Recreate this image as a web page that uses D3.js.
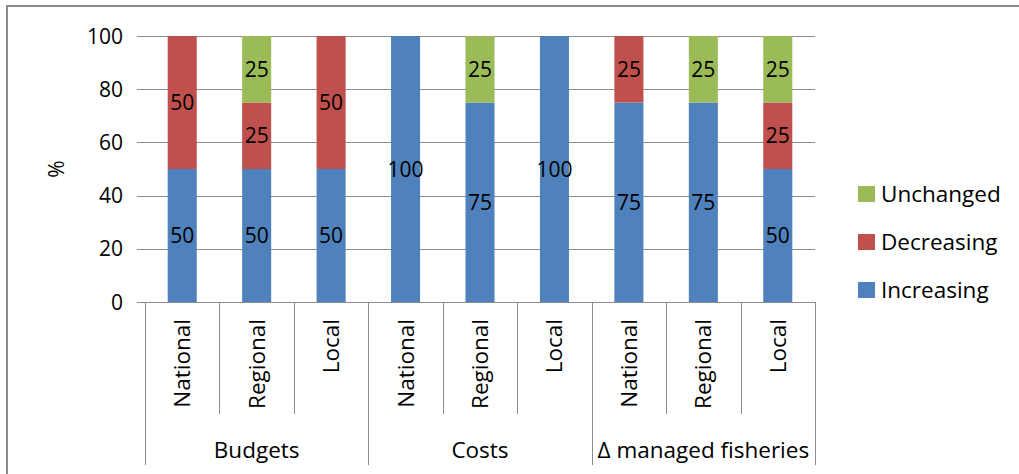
<!DOCTYPE html>
<html>
<head>
<meta charset="utf-8">
<script src="https://cdn.jsdelivr.net/npm/d3@7"></script>
<style>
  html, body { margin: 0; padding: 0; background: #fff; }
  svg { display: block; font-family: "Open Sans", "DejaVu Sans", sans-serif; }
  .grid { stroke: #8c8c8c; stroke-width: 1; shape-rendering: crispEdges; }
  .tick-label { font-size: 21px; fill: #000; }
  .cat-label { font-size: 22.5px; fill: #000; }
  .seg-label { font-size: 21px; fill: #000; }
</style>
</head>
<body>
<svg id="chart" width="1019" height="474"></svg>
<script>
// ---------------------------------------------------------------------------
// Data
// ---------------------------------------------------------------------------

const groups = ['Budgets', 'Costs', '\u0394 managed fisheries'];
const levels = ['National', 'Regional', 'Local'];

// one value per bar, in order Budgets N/R/L, Costs N/R/L, Δ fisheries N/R/L
const increasing = [50, 50, 50, 100, 75, 100, 75, 75, 50];
const decreasing = [50, 25, 50, 0, 0, 0, 25, 0, 25];
const unchanged  = [0, 25, 0, 0, 25, 0, 0, 25, 25];

const seriesNames  = ['Increasing', 'Decreasing', 'Unchanged'];
const seriesColors = ['#4f81bd', '#c0504d', '#9bbb59'];
const yTicks = [0, 20, 40, 60, 80, 100];

// ---------------------------------------------------------------------------
// Layout
// ---------------------------------------------------------------------------

const PLOT = { left: 145, right: 815, top: 36, bottom: 302 };
const INNER_SEP_BOTTOM = 414;
const GROUP_SEP_BOTTOM = 465;

const svg = d3.select('#chart');

// chart area border (only top/left visible in the frame)
svg.append('rect')
  .attr('x', 7).attr('y', 6)
  .attr('width', 1040).attr('height', 500)
  .attr('fill', 'none')
  .attr('stroke', '#8a8a8a')
  .attr('stroke-width', 2);

const rows = increasing.map((v, i) => ({
  key: groups[Math.floor(i / 3)] + '|' + levels[i % 3],
  level: levels[i % 3],
  Increasing: v,
  Decreasing: decreasing[i],
  Unchanged: unchanged[i]
}));

const x = d3.scaleBand()
  .domain(rows.map(d => d.key))
  .range([PLOT.left, PLOT.right])
  .paddingInner(0.61)
  .paddingOuter(0.305);

const y = d3.scaleLinear().domain([0, 100]).range([PLOT.bottom, PLOT.top]);

// Gridlines + tick labels
svg.append('g').selectAll('line')
  .data(yTicks)
  .join('line')
  .classed('grid', true)
  .attr('x1', PLOT.left - 8).attr('x2', PLOT.right)
  .attr('y1', d => Math.round(y(d)) + 0.5).attr('y2', d => Math.round(y(d)) + 0.5);

svg.append('g').selectAll('text')
  .data(yTicks)
  .join('text')
  .classed('tick-label', true)
  .attr('x', PLOT.left - 22)
  .attr('y', d => y(d))
  .attr('dy', '0.36em')
  .attr('text-anchor', 'end')
  .text(d => d);

// y axis title
svg.append('text')
  .classed('tick-label', true)
  .attr('transform', `translate(64, ${(PLOT.top + PLOT.bottom) / 2}) rotate(-90)`)
  .attr('text-anchor', 'middle')
  .text('%');

// Stacked bars
const stack = d3.stack().keys(seriesNames)(rows);

const layers = svg.append('g').selectAll('g')
  .data(stack)
  .join('g')
  .attr('fill', (d, i) => seriesColors[i]);

layers.selectAll('rect')
  .data(d => d.filter(s => s[1] - s[0] > 0))
  .join('rect')
  .attr('x', d => x(d.data.key))
  .attr('width', x.bandwidth())
  .attr('y', d => y(d[1]))
  .attr('height', d => y(d[0]) - y(d[1]));

layers.selectAll('text')
  .data(d => d.filter(s => s[1] - s[0] > 0))
  .join('text')
  .classed('seg-label', true)
  .attr('x', d => x(d.data.key) + x.bandwidth() / 2)
  .attr('y', d => y((d[0] + d[1]) / 2))
  .attr('dy', '0.36em')
  .attr('text-anchor', 'middle')
  .text(d => d[1] - d[0]);

// Category axis: separators
const step = x.step();
const boundaries = d3.range(rows.length + 1).map(i => PLOT.left + i * step);

svg.append('g').selectAll('line')
  .data(boundaries)
  .join('line')
  .classed('grid', true)
  .attr('x1', d => Math.round(d) + 0.5).attr('x2', d => Math.round(d) + 0.5)
  .attr('y1', PLOT.bottom)
  .attr('y2', (d, i) => (i % 3 === 0 ? GROUP_SEP_BOTTOM : INNER_SEP_BOTTOM));

// Level labels (rotated)
svg.append('g').selectAll('text')
  .data(rows)
  .join('text')
  .classed('cat-label', true)
  .attr('transform', d => `translate(${x(d.key) + x.bandwidth() / 2 + 8}, 319) rotate(-90)`)
  .attr('text-anchor', 'end')
  .text(d => d.level);

// Group labels
svg.append('g').selectAll('text')
  .data(groups)
  .join('text')
  .classed('cat-label', true)
  .attr('x', (d, i) => PLOT.left + (i * 3 + 1.5) * step)
  .attr('y', 450)
  .attr('dy', '0.36em')
  .attr('text-anchor', 'middle')
  .text(d => d);

// Legend (top-down: Unchanged, Decreasing, Increasing)
const legendItems = seriesNames.map((n, i) => ({ name: n, color: seriesColors[i] })).reverse();
const legend = svg.append('g').selectAll('g')
  .data(legendItems)
  .join('g')
  .attr('transform', (d, i) => `translate(858, ${194 + i * 48})`);

legend.append('rect')
  .attr('x', 0).attr('y', -8)
  .attr('width', 17).attr('height', 16)
  .attr('fill', d => d.color);

legend.append('text')
  .classed('cat-label', true)
  .attr('x', 23).attr('y', 0)
  .attr('dy', '0.36em')
  .text(d => d.name);
</script>
</body>
</html>
